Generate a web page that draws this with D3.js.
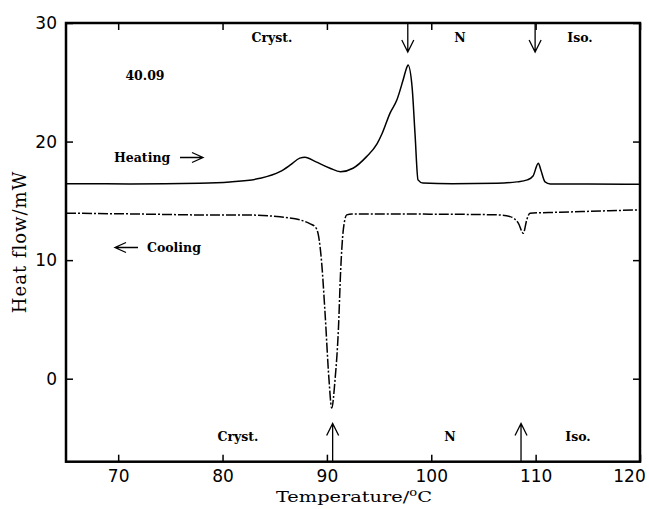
<!DOCTYPE html>
<html>
<head>
<meta charset="utf-8">
<style>
body { margin: 0; background: #fff; }
text { fill: #000; }
.tick text { font-family: "DejaVu Sans", sans-serif; font-size: 17px; }
.lbl { font-family: "DejaVu Serif", serif; font-size: 12.5px; font-weight: bold; }
.ttl { font-family: "DejaVu Serif", serif; font-size: 18px; letter-spacing: 1px; }
</style>
</head>
<body>
<div id="chart"></div>
<script src="https://d3js.org/d3.v7.min.js"></script>
<script>
// heating trace (temperature in C, heat flow in mW)
var heatT = [65, 71.1, 77.8, 80.7, 83.6, 85.5, 86.5, 87.4, 87.9, 88.9, 90.3, 91.3, 92.5, 93.8, 94.8, 95.3, 96.05, 96.7, 97.3, 97.68, 97.77, 98.16, 98.44, 98.73, 99.2, 102, 106.3, 108.2, 109.2, 109.75, 110.26, 110.5, 110.9, 111.4, 115, 120];
var heatQ = [16.45, 16.43, 16.49, 16.6, 16.9, 17.46, 18.03, 18.6, 18.68, 18.31, 17.75, 17.46, 17.75, 18.73, 19.8, 20.7, 22.4, 23.5, 25.19, 26.31, 26.45, 24.62, 20.7, 16.77, 16.5, 16.45, 16.49, 16.6, 16.77, 17.1, 18.17, 17.6, 16.6, 16.43, 16.42, 16.4];
// cooling trace
var coolT = [65, 71.1, 79.8, 82.6, 85.5, 87.4, 88.4, 88.86, 89.18, 89.5, 89.82, 90.2, 90.46, 90.78, 91.1, 91.32, 91.57, 91.9, 92.4, 99.9, 106.3, 107.55, 108.34, 108.82, 109.15, 109.46, 112.3, 120];
var coolQ = [13.96, 13.9, 13.8, 13.8, 13.65, 13.4, 13.06, 12.83, 12.13, 9.75, 5.56, -0.08, -2.47, -0.08, 4.13, 9.18, 12.55, 13.82, 13.9, 13.88, 13.82, 13.67, 13.12, 12.27, 13.4, 13.96, 14.04, 14.24];
var xTicks = [70, 80, 90, 100, 110, 120];
var yTicks = [0, 10, 20, 30];
// phase transition markers
var heatMarks = [97.75, 109.95];
var coolMarks = [90.55, 108.6];

var W = 649, H = 509;
var L = 66, R = 640, T = 23, B = 461.7;

var svg = d3.select("#chart").append("svg").attr("width", W).attr("height", H);

var x = d3.scaleLinear().domain([65, 120]).range([L, R]);
var y = d3.scaleLinear().domain([-7, 30]).range([B, T]);

function axisStyle(g) {
    g.select(".domain").remove();
    g.selectAll(".tick line").attr("stroke", "#000").attr("stroke-width", 1.5);
}

svg.append("g").attr("transform", "translate(0," + B + ")")
    .call(d3.axisBottom(x).tickValues(xTicks).tickSizeInner(-7).tickSizeOuter(0).tickPadding(8).tickFormat(d3.format("d")))
    .call(axisStyle)
    .selectAll(".tick text").filter(function (d) { return d === 120; }).attr("dx", -11);
svg.append("g").attr("transform", "translate(0," + T + ")")
    .call(d3.axisTop(x).tickValues(xTicks).tickSizeInner(-7).tickSizeOuter(0).tickFormat(""))
    .call(axisStyle);
svg.append("g").attr("transform", "translate(" + L + ",0)")
    .call(d3.axisLeft(y).tickValues(yTicks).tickSizeInner(-7).tickSizeOuter(0).tickPadding(9).tickFormat(d3.format("d")))
    .call(axisStyle);
svg.append("g").attr("transform", "translate(" + R + ",0)")
    .call(d3.axisRight(y).tickValues(yTicks).tickSizeInner(-7).tickSizeOuter(0).tickFormat(""))
    .call(axisStyle);

svg.append("rect").attr("x", L).attr("y", T).attr("width", R - L).attr("height", B - T)
    .attr("fill", "none").attr("stroke", "#000").attr("stroke-width", 2.5);

var line = d3.line().x(function (d) { return x(d[0]); }).y(function (d) { return y(d[1]); })
    .curve(d3.curveMonotoneX);

svg.append("path").datum(d3.zip(heatT, heatQ)).attr("d", line)
    .attr("fill", "none").attr("stroke", "#000").attr("stroke-width", 1.5);
svg.append("path").datum(d3.zip(coolT, coolQ)).attr("d", line)
    .attr("fill", "none").attr("stroke", "#000").attr("stroke-width", 1.5)
    .attr("stroke-dasharray", "10,2,2,2");

// arrows with open heads
function arrow(x1, y1, x2, y2) {
    var dir = y2 > y1 ? -1 : 1;
    svg.append("path")
        .attr("d", "M" + x1 + "," + y1 + "L" + x2 + "," + y2 +
            "M" + (x2 - 6) + "," + (y2 + dir * 12) + "L" + x2 + "," + y2 + "L" + (x2 + 6) + "," + (y2 + dir * 12))
        .attr("fill", "none").attr("stroke", "#000").attr("stroke-width", 1.3);
}
function harrow(x1, x2, yy) {
    var dir = x2 > x1 ? -1 : 1;
    svg.append("path")
        .attr("d", "M" + x1 + "," + yy + "L" + x2 + "," + yy +
            "M" + (x2 + dir * 11) + "," + (yy - 5) + "L" + x2 + "," + yy + "L" + (x2 + dir * 11) + "," + (yy + 5))
        .attr("fill", "none").attr("stroke", "#000").attr("stroke-width", 1.3);
}
heatMarks.forEach(function (t) { arrow(x(t), T, x(t), 52); });
coolMarks.forEach(function (t) { arrow(x(t), B, x(t), 423.5); });

function label(tx, ty, s, anchor) {
    svg.append("text").attr("class", "lbl").attr("x", tx).attr("y", ty)
        .attr("text-anchor", anchor || "middle").text(s);
}
label(272, 42, "Cryst.");
label(460, 42, "N");
label(580, 42, "Iso.");
label(238, 441, "Cryst.");
label(450, 441, "N");
label(578, 441, "Iso.");
label(145, 80, "40.09");
label(114, 162, "Heating", "start");
harrow(180, 203, 157.5);
label(147, 252, "Cooling", "start");
harrow(138, 115, 247.5);

var xt = svg.append("text").attr("transform", "translate(354,501.5) scale(1.25,1)")
    .attr("font-family", "DejaVu Serif, serif").attr("font-size", 15.5).attr("text-anchor", "middle");
xt.append("tspan").text("Temperature/");
xt.append("tspan").attr("dy", -6).attr("font-size", 10.5).text("o");
xt.append("tspan").attr("dy", 6).text("C");

svg.append("text").attr("class", "ttl").attr("transform", "translate(26,242) rotate(-90)")
    .attr("text-anchor", "middle").text("Heat flow/mW");
</script>
</body>
</html>
